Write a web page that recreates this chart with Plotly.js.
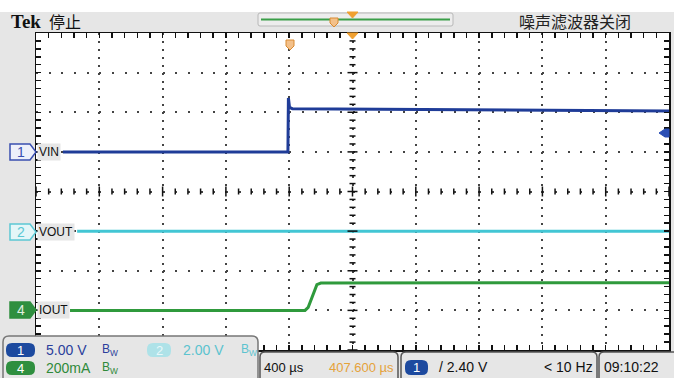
<!DOCTYPE html>
<html><head><meta charset="utf-8">
<script src="https://cdn.plot.ly/plotly-3.0.1.min.js"></script>
<style>html,body{margin:0;padding:0;background:#fff;}#chart{width:674px;height:378px;}</style>
</head><body><div id="chart"></div>
<script>
// ---- data ----
const vinTime   = [-1830, -408, -405, -398, -380, 0, 600, 1300, 2000];   // µs
const vinVolts  = [0, 0, 6.8, 5.6, 5.45, 5.4, 5.4, 5.3, 5.15];            // V
const voutTime  = [-1740, 2000];
const voutVolts = [0, 0];
const ioutTime  = [-1785, -300, -280, -255, -225, -200, 2000];
const ioutMilliamps = [0, 0, 15, 70, 130, 138, 140];                     // mA

const channelNames = ['VIN', 'VOUT', 'IOUT'];
const channelNumbers = ['1', '2', '4'];
const scaleLabels = ['5.00 V', '2.00 V', '200mA'];
const timebaseLabel = '400 µs';
const delayLabel = '407.600 µs';
const triggerLabel = '/ 2.40 V';
const freqLabel = '< 10 Hz';
const clockLabel = '09:10:22';
const brandLabel = 'Tek';
const stateLabel = '停止';
const filterLabel = '噪声滤波器关闭';

// ---- layout geometry ----
const W = 674, H = 378, L = 36, R = 669, T = 33, B = 350;
const XMIN = -2000, XMAX = 2000, XDIV = 400, YDIVS = 4;
const px = x => (x - L) / (R - L);
const py = y => (B - y) / (B - T);
const poly = pts => 'M' + pts.map(p => px(p[0]) + ',' + py(p[1])).join(' L') + ' Z';
function rrect(x0, y0, x1, y1, r) {
  const P = (x, y) => px(x) + ',' + py(y);
  return 'M' + P(x0 + r, y0) + ' L' + P(x1 - r, y0) + ' Q' + P(x1, y0) + ' ' + P(x1, y0 + r) +
    ' L' + P(x1, y1 - r) + ' Q' + P(x1, y1) + ' ' + P(x1 - r, y1) +
    ' L' + P(x0 + r, y1) + ' Q' + P(x0, y1) + ' ' + P(x0, y1 - r) +
    ' L' + P(x0, y0 + r) + ' Q' + P(x0, y0) + ' ' + P(x0 + r, y0) + ' Z';
}
const SANS = '"Liberation Sans", Arial, sans-serif';
const CJK = '"Noto Sans CJK SC", sans-serif';

const C_BLUE = '#1f3c98', C_CYAN = '#42c6d4', C_GREEN = '#2f9a3c', C_ORANGE = '#e5a23a';

const traces = [
  {x: vinTime, y: vinVolts, xaxis: 'x', yaxis: 'y2', type: 'scatter', mode: 'lines', line: {color: C_BLUE, width: 3}, hoverinfo: 'skip'},
  {x: voutTime, y: voutVolts, xaxis: 'x', yaxis: 'y3', type: 'scatter', mode: 'lines', line: {color: C_CYAN, width: 3}, hoverinfo: 'skip'},
  {x: ioutTime, y: ioutMilliamps, xaxis: 'x', yaxis: 'y4', type: 'scatter', mode: 'lines', line: {color: C_GREEN, width: 3}, hoverinfo: 'skip'}
];

const shapes = [];
// graticule centre-line tick marks (every 1/5 division, longer on division lines)
const cx = py((B + T) / 2);
for (let i = 0; i <= 50; i++) {
  const t = XMIN + i * (XDIV / 5);
  const len = (i % 5 === 0) ? 5 : 3;
  const dy = len / (B - T);
  shapes.push({type: 'line', xref: 'x', yref: 'paper', x0: t, x1: t, y0: 0.5 - dy, y1: 0.5 + dy, line: {color: '#111', width: 1.5}});
}
for (let j = 0; j <= 40; j++) {
  const v = -YDIVS + j * 0.2;
  const len = (j % 5 === 0) ? 5 : 3;
  const dx = len / (R - L);
  shapes.push({type: 'line', xref: 'paper', yref: 'y', x0: 0.5 - dx, x1: 0.5 + dx, y0: v, y1: v, line: {color: '#111', width: 1.5}});
}

shapes.push(
  // white strip at very top
  {type: 'rect', xref: 'paper', yref: 'paper', x0: px(-5), x1: px(W + 5), y0: py(12), y1: py(-5), fillcolor: '#ffffff', line: {width: 0}, layer: 'below'},
  // record bar
  {type: 'path', xref: 'paper', yref: 'paper', path: rrect(258, 13, 453, 26, 2), fillcolor: '#ededed', line: {color: '#b8b8b8', width: 1}},
  {type: 'line', xref: 'paper', yref: 'paper', x0: px(261), x1: px(450), y0: py(19.5), y1: py(19.5), line: {color: '#3a9e48', width: 2}},
  {type: 'path', xref: 'paper', yref: 'paper', path: poly([[330, 18], [338, 18], [338, 23], [334, 27], [330, 23]]), fillcolor: '#f3c08a', line: {color: '#d98a30', width: 1}},
  {type: 'path', xref: 'paper', yref: 'paper', path: poly([[347, 12], [358, 12], [352.5, 18]]), fillcolor: '#f0a030', line: {color: '#f0a030', width: 1}},
  // trigger markers in graticule
  {type: 'path', xref: 'paper', yref: 'paper', path: poly([[286, 40], [294, 40], [294, 46], [290, 50], [286, 46]]), fillcolor: '#f3c08a', line: {color: '#d98a30', width: 1}},
  {type: 'path', xref: 'paper', yref: 'paper', path: poly([[347, 33], [358, 33], [352.5, 39]]), fillcolor: '#f0a030', line: {color: '#f0a030', width: 1}},
  // trigger level arrow right
  {type: 'path', xref: 'paper', yref: 'paper', path: poly([[669, 129], [665, 129], [659, 133], [665, 137], [669, 137]]), fillcolor: '#2b4fb5', line: {color: '#2b4fb5', width: 1}},
  // channel markers left
  {type: 'path', xref: 'paper', yref: 'paper', path: poly([[10, 144], [30, 144], [36, 152], [30, 160], [10, 160]]), fillcolor: '#eef0fa', line: {color: '#3a4fb0', width: 1.5}},
  {type: 'path', xref: 'paper', yref: 'paper', path: poly([[10, 224], [30, 224], [36, 232], [30, 240], [10, 240]]), fillcolor: '#e4f6f8', line: {color: '#5cc8d4', width: 1.5}},
  {type: 'path', xref: 'paper', yref: 'paper', path: poly([[10, 302], [30, 302], [36, 310], [30, 318], [10, 318]]), fillcolor: '#2f8f3f', line: {color: '#2f8f3f', width: 1.5}},
  // bottom-left channel panel
  {type: 'path', xref: 'paper', yref: 'paper', path: rrect(3, 336, 258, 384, 6), fillcolor: '#e6e6e6', line: {color: '#777', width: 1.5}, layer: 'above'},
  {type: 'path', xref: 'paper', yref: 'paper', path: rrect(6, 343, 35, 357, 6), fillcolor: '#1d4a9f', line: {width: 0}},
  {type: 'path', xref: 'paper', yref: 'paper', path: rrect(147, 343, 171, 357, 6), fillcolor: '#aee2e8', line: {width: 0}},
  {type: 'path', xref: 'paper', yref: 'paper', path: rrect(6, 361, 35, 375, 6), fillcolor: '#2f8f3f', line: {width: 0}},
  // bottom-right boxes
  {type: 'path', xref: 'paper', yref: 'paper', path: rrect(260, 352, 398, 384, 5), fillcolor: '#e6e6e6', line: {color: '#555', width: 1.5}},
  {type: 'path', xref: 'paper', yref: 'paper', path: rrect(401, 352, 597, 384, 5), fillcolor: '#e6e6e6', line: {color: '#555', width: 1.5}},
  {type: 'path', xref: 'paper', yref: 'paper', path: rrect(599, 352, 680, 384, 5), fillcolor: '#e6e6e6', line: {color: '#555', width: 1.5}},
  {type: 'path', xref: 'paper', yref: 'paper', path: rrect(405, 360, 428, 375, 6), fillcolor: '#1d4a9f', line: {width: 0}}
);

function txt(x, y, text, opts) {
  return Object.assign({xref: 'paper', yref: 'paper', x: px(x), y: py(y), text: text, showarrow: false,
    xanchor: 'left', yanchor: 'middle', font: {family: SANS, size: 14, color: '#111'}}, opts || {});
}
const annotations = [
  txt(9, 21, '<b>' + brandLabel + '</b>', {font: {family: '"Liberation Serif", serif', size: 19, color: '#111'}}),
  txt(47, 21, stateLabel, {font: {family: CJK, size: 16, color: '#111'}}),
  txt(633, 21, filterLabel, {xanchor: 'right', font: {family: CJK, size: 16, color: '#222'}}),
  txt(21, 152, channelNumbers[0], {xanchor: 'center', font: {family: SANS, size: 14, color: '#3a4fb0'}}),
  txt(21, 232, channelNumbers[1], {xanchor: 'center', font: {family: SANS, size: 14, color: '#5cc8d4'}}),
  txt(21, 310, channelNumbers[2], {xanchor: 'center', font: {family: SANS, size: 14, color: '#e0f0e0'}}),
  txt(37, 152, channelNames[0], {bgcolor: '#e6e6e6', font: {family: SANS, size: 12, color: '#111'}}),
  txt(37, 232, channelNames[1], {bgcolor: '#e6e6e6', font: {family: SANS, size: 12, color: '#111'}}),
  txt(37, 310, channelNames[2], {bgcolor: '#e6e6e6', font: {family: SANS, size: 12, color: '#111'}}),
  txt(20.5, 350, channelNumbers[0], {xanchor: 'center', font: {family: SANS, size: 13, color: '#ffffff'}}),
  txt(159, 350, channelNumbers[1], {xanchor: 'center', font: {family: SANS, size: 13, color: '#e8f8fa'}}),
  txt(20.5, 368, channelNumbers[2], {xanchor: 'center', font: {family: SANS, size: 13, color: '#ffffff'}}),
  txt(44, 350, scaleLabels[0], {font: {family: SANS, size: 14, color: '#2b3f9c'}}),
  txt(100, 350, 'B<sub>W</sub>', {font: {family: SANS, size: 12, color: '#2b3f9c'}}),
  txt(181, 350, scaleLabels[1], {font: {family: SANS, size: 14, color: '#5cc3cf'}}),
  txt(239, 350, 'B<sub>W</sub>', {font: {family: SANS, size: 12, color: '#5cc3cf'}}),
  txt(44, 368, scaleLabels[2], {font: {family: SANS, size: 14, color: '#2f8a3a'}}),
  txt(100, 368, 'B<sub>W</sub>', {font: {family: SANS, size: 12, color: '#2f8a3a'}}),
  txt(262, 367, timebaseLabel, {font: {family: SANS, size: 13, color: '#111'}}),
  txt(396, 367, delayLabel, {xanchor: 'right', font: {family: SANS, size: 13, color: C_ORANGE}}),
  txt(416.5, 367.5, channelNumbers[0], {xanchor: 'center', font: {family: SANS, size: 13, color: '#ffffff'}}),
  txt(437, 367, triggerLabel),
  txt(595, 367, freqLabel, {xanchor: 'right'}),
  txt(602, 367, clockLabel)
];

const layout = {
  width: W, height: H,
  margin: {l: L, r: W - R, t: T, b: H - B, pad: 0},
  paper_bgcolor: '#e6e6e6', plot_bgcolor: '#ffffff',
  showlegend: false,
  xaxis: {
    range: [XMIN, XMAX], dtick: XDIV, tick0: 0, showticklabels: false, zeroline: false, fixedrange: true,
    showgrid: true, gridcolor: '#444', gridwidth: 2, griddash: '2px,5.925px',
    ticks: 'inside', ticklen: 5, tickwidth: 1.5, tickcolor: '#111',
    minor: {dtick: XDIV / 5, ticks: 'inside', ticklen: 5, tickwidth: 1.5, tickcolor: '#111', showgrid: false},
    showline: true, linecolor: '#111', linewidth: 1.5, mirror: 'allticks'
  },
  yaxis: {
    range: [-YDIVS, YDIVS], dtick: 1, tick0: 0, showticklabels: false, zeroline: false, fixedrange: true,
    showgrid: true, gridcolor: '#444', gridwidth: 2, griddash: '2px,10.66px',
    ticks: 'inside', ticklen: 5, tickwidth: 1.5, tickcolor: '#111',
    minor: {dtick: 0.2, ticks: 'inside', ticklen: 5, tickwidth: 1.5, tickcolor: '#111', showgrid: false},
    showline: true, linecolor: '#111', linewidth: 1.5, mirror: 'allticks'
  },
  yaxis2: {overlaying: 'y', anchor: 'x', range: [-25, 15], visible: false, fixedrange: true},
  yaxis3: {overlaying: 'y', anchor: 'x', range: [-6, 10], visible: false, fixedrange: true},
  yaxis4: {overlaying: 'y', anchor: 'x', range: [-200, 1400], visible: false, fixedrange: true},
  shapes: shapes,
  annotations: annotations
};

Plotly.newPlot('chart', traces, layout, {displayModeBar: false, staticPlot: true});
</script>
</body></html>
